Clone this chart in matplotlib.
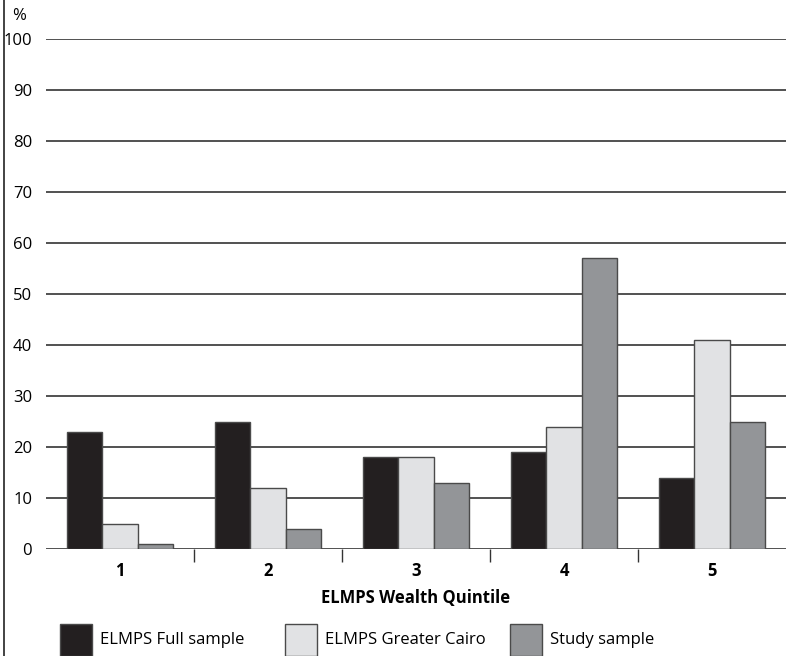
import numpy as np
import matplotlib
matplotlib.use("Agg")
import matplotlib.pyplot as plt
from matplotlib.patches import Rectangle
from matplotlib.lines import Line2D

plt.rcParams['font.family'] = ['Open Sans', 'DejaVu Sans']

quintiles = ['1', '2', '3', '4', '5']
series_names = ['ELMPS Full sample', 'ELMPS Greater Cairo', 'Study sample']
full_sample = [23, 25, 18, 19, 14]
greater_cairo = [5, 12, 18, 24, 41]
study_sample = [1, 4, 13, 57, 25]
yticks = [0, 10, 20, 30, 40, 50, 60, 70, 80, 90, 100]

colors = ['#231f20', '#e1e2e4', '#939598']
edge = '#4a4a4a'

W, H = 786, 656
fig = plt.figure(figsize=(W / 100, H / 100), dpi=100)
ax = fig.add_axes([46 / W, 1 - 549 / H, 1 - 46 / W, (549 - 39) / H])

x = np.arange(len(quintiles))
width = 0.24
for i, (vals, name) in enumerate(zip([full_sample, greater_cairo, study_sample], series_names)):
    ax.bar(x + (i - 1) * width, vals, width, color=colors[i], edgecolor=edge,
           linewidth=1.0, zorder=3, label=name)

ax.set_xlim(-0.5, len(quintiles) - 0.5)
ax.set_ylim(0, 100)
ax.set_yticks(yticks)
ax.set_yticklabels([str(v) for v in yticks], fontsize=12)
ax.set_xticks(x)
ax.set_xticklabels(quintiles, fontsize=12, fontweight='bold')
ax.set_xticks(x[:-1] + 0.5, minor=True)
ax.tick_params(axis='y', length=0, pad=10)
ax.tick_params(axis='x', which='major', length=0, pad=9)
ax.tick_params(axis='x', which='minor', length=9, width=1.0, color='#333333', direction='out')
ax.yaxis.grid(True, color='#333333', linewidth=1.2, zorder=0)
ax.set_axisbelow(True)
for s in ax.spines.values():
    s.set_visible(False)
ax.set_xlabel('ELMPS Wealth Quintile', fontsize=12, fontweight='bold', labelpad=7)

fig.text(12 / W, 1 - 16 / H, '%', fontsize=12, va='center', ha='left')

# frame edge on the left
fig.add_artist(Line2D([3.5 / W, 3.5 / W], [0, 1], color='#222222', linewidth=1.2))

# legend drawn along the bottom edge
legend_x = [60, 285, 510]
for lx, name, c in zip(legend_x, series_names, colors):
    fig.add_artist(Rectangle((lx / W, 0), 32 / W, 32 / H, transform=fig.transFigure,
                             facecolor=c, edgecolor=edge, linewidth=1.0))
    fig.text((lx + 40) / W, 1 - 640 / H, name, fontsize=12, va='center', ha='left')

fig.savefig('out.png', dpi=100)
